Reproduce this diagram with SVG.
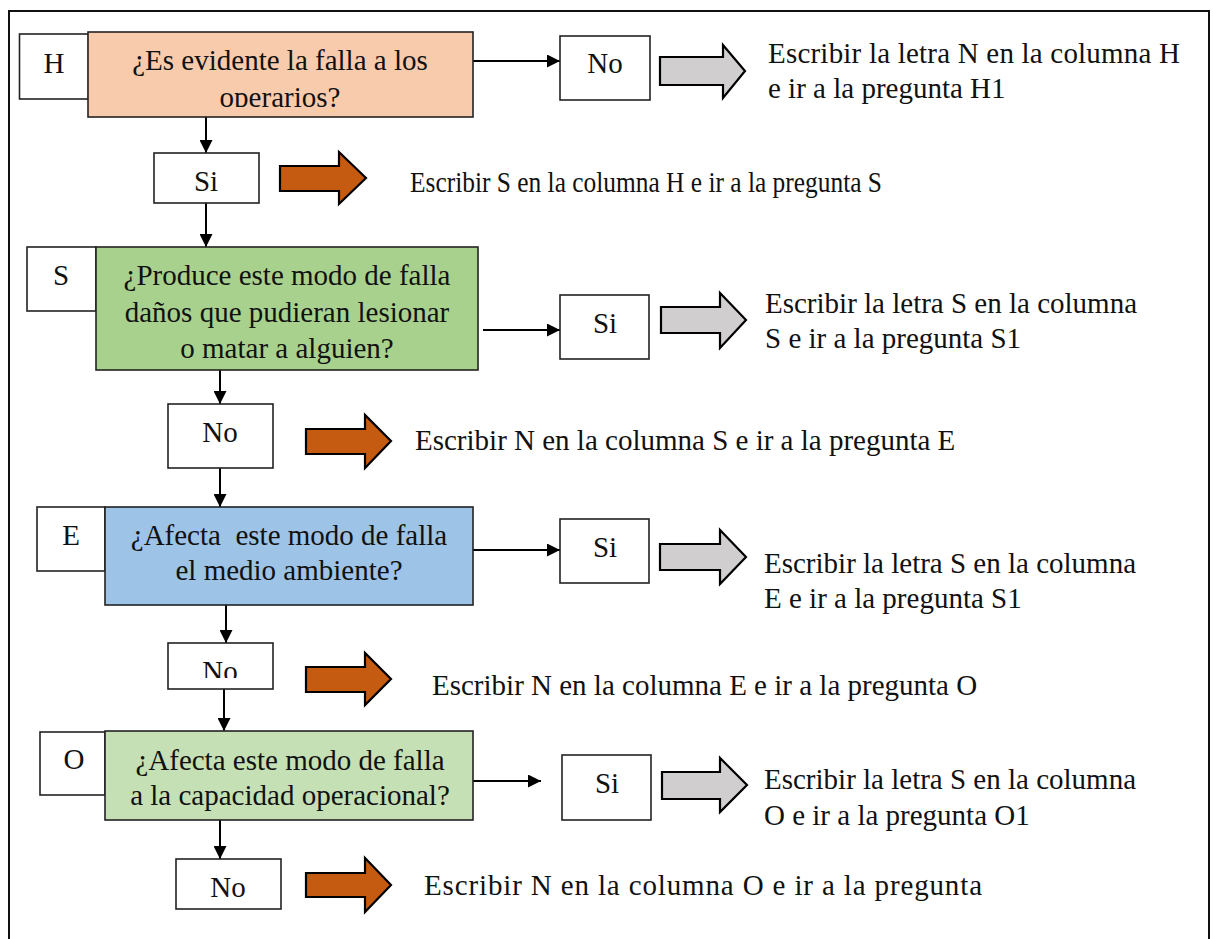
<svg xmlns="http://www.w3.org/2000/svg" width="1213" height="939" viewBox="0 0 1213 939">
  <style>
    text { font-family: "Liberation Serif", "Times New Roman", serif; font-size: 29px; fill: #111; }
    .mid { text-anchor: middle; }
    .box { stroke: #222; stroke-width: 1.6; }
    .white { fill: #ffffff; }
    .conn { stroke: #000; stroke-width: 2; fill: none; }
    .orange { fill: #C55A11; stroke: #000; stroke-width: 2.2; stroke-linejoin: miter; }
    .grey { fill: #D0CECE; stroke: #000; stroke-width: 2.2; stroke-linejoin: miter; }
  </style>
  <defs>
    <marker id="arr" viewBox="0 0 10 10" refX="10" refY="5" markerWidth="7" markerHeight="6.5" markerUnits="strokeWidth" orient="auto">
      <path d="M0,0 L10,5 L0,10 z" fill="#000"/>
    </marker>
    <clipPath id="clipH"><rect x="88" y="32" width="385" height="75"/></clipPath>
    <clipPath id="clipNoE"><rect x="168" y="643" width="105" height="35"/></clipPath>
  </defs>

  <rect width="1213" height="939" fill="#ffffff"/>
  <!-- outer frame -->
  <rect x="9" y="11" width="1200" height="945" fill="none" stroke="#111" stroke-width="2"/>

  <!-- connectors -->
  <g id="connectors">
    <line class="conn" x1="473" y1="61" x2="560" y2="61" marker-end="url(#arr)"/>
    <line class="conn" x1="483" y1="330" x2="560" y2="330" marker-end="url(#arr)"/>
    <line class="conn" x1="473" y1="550" x2="560" y2="550" marker-end="url(#arr)"/>
    <line class="conn" x1="473" y1="781" x2="541" y2="781" marker-end="url(#arr)"/>
    <line class="conn" x1="206" y1="117" x2="206" y2="153" marker-end="url(#arr)"/>
    <line class="conn" x1="206" y1="203" x2="206" y2="247" marker-end="url(#arr)"/>
    <line class="conn" x1="220" y1="370" x2="220" y2="404" marker-end="url(#arr)"/>
    <line class="conn" x1="220" y1="468" x2="220" y2="507" marker-end="url(#arr)"/>
    <line class="conn" x1="226" y1="605" x2="226" y2="643" marker-end="url(#arr)"/>
    <line class="conn" x1="224" y1="689" x2="224" y2="731" marker-end="url(#arr)"/>
    <line class="conn" x1="220" y1="820" x2="220" y2="859" marker-end="url(#arr)"/>
  </g>

  <!-- block arrows -->
  <g id="block-arrows">
    <polygon class="orange" points="280,166 339,166 339,152 366,178 339,204 339,191 280,191"/>
    <polygon class="orange" points="306,429 365,429 365,415 391,441 365,468 365,454 306,454"/>
    <polygon class="orange" points="306,667 365,667 365,653 391,679 365,705 365,692 306,692"/>
    <polygon class="orange" points="306,873 365,873 365,858 391,885 365,912 365,897 306,897"/>
    <polygon class="grey" points="660,57 723,57 723,45 745,71 723,98 723,85 660,85"/>
    <polygon class="grey" points="661,307 720,307 720,293 746,320 720,348 720,333 661,333"/>
    <polygon class="grey" points="660,544 720,544 720,530 746,557 720,584 720,570 660,570"/>
    <polygon class="grey" points="662,772 720,772 720,758 747,785 720,812 720,799 662,799"/>
  </g>

  <!-- H question -->
  <g id="node-h">
    <rect class="box white" x="19.5" y="34" width="69" height="65"/>
    <text class="mid" x="54" y="73">H</text>
  </g>
  <g id="node-q-h">
    <rect class="box" fill="#F8CBAD" x="88" y="32" width="385" height="85"/>
    <g clip-path="url(#clipH)">
      <text class="mid" x="280" y="70">¿Es evidente la falla a los</text>
      <text class="mid" x="280" y="107">operarios?</text>
    </g>
  </g>
  <g id="node-no-h">
    <rect class="box white" x="560" y="36" width="90" height="64"/>
    <text class="mid" x="605" y="73">No</text>
  </g>
  <g id="text-no-h">
    <text x="768" y="63" textLength="412" lengthAdjust="spacing">Escribir la letra N en la columna H</text>
    <text x="768" y="98">e ir a la pregunta H1</text>
  </g>
  <g id="node-si-h">
    <rect class="box white" x="154" y="153" width="105" height="50"/>
    <text class="mid" x="206" y="191">Si</text>
  </g>
  <g id="text-si-h">
    <text x="410" y="192" textLength="472" lengthAdjust="spacingAndGlyphs">Escribir S en la columna H e ir a la pregunta S</text>
  </g>

  <!-- S question -->
  <g id="node-s">
    <rect class="box white" x="27" y="247" width="69" height="64"/>
    <text class="mid" x="61" y="285">S</text>
  </g>
  <g id="node-q-s">
    <rect class="box" fill="#A9D18E" x="96" y="247" width="382" height="123"/>
    <text class="mid" x="287" y="285">¿Produce este modo de falla</text>
    <text class="mid" x="287" y="322">daños que pudieran lesionar</text>
    <text class="mid" x="287" y="358">o matar a alguien?</text>
  </g>
  <g id="node-si-s">
    <rect class="box white" x="560" y="295" width="89" height="64"/>
    <text class="mid" x="605" y="333">Si</text>
  </g>
  <g id="text-si-s">
    <text x="765" y="313">Escribir la letra S en la columna</text>
    <text x="765" y="348">S e ir a la pregunta S1</text>
  </g>
  <g id="node-no-s">
    <rect class="box white" x="168" y="404" width="105" height="64"/>
    <text class="mid" x="220" y="442">No</text>
  </g>
  <g id="text-no-s">
    <text x="415" y="450">Escribir N en la columna S e ir a la pregunta E</text>
  </g>

  <!-- E question -->
  <g id="node-e">
    <rect class="box white" x="37" y="507" width="68" height="64"/>
    <text class="mid" x="71" y="545">E</text>
  </g>
  <g id="node-q-e">
    <rect class="box" fill="#9DC3E6" x="105" y="507" width="368" height="98"/>
    <text class="mid" x="289" y="545" xml:space="preserve">¿Afecta  este modo de falla</text>
    <text class="mid" x="289" y="580">el medio ambiente?</text>
  </g>
  <g id="node-si-e">
    <rect class="box white" x="560" y="519" width="89" height="64"/>
    <text class="mid" x="605" y="557">Si</text>
  </g>
  <g id="text-si-e">
    <text x="764" y="573">Escribir la letra S en la columna</text>
    <text x="764" y="608">E e ir a la pregunta S1</text>
  </g>
  <g id="node-no-e">
    <rect class="box white" x="168" y="643" width="105" height="46"/>
    <g clip-path="url(#clipNoE)">
      <text class="mid" x="220" y="681">No</text>
    </g>
  </g>
  <g id="text-no-e">
    <text x="432" y="695">Escribir N en la columna E e ir a la pregunta O</text>
  </g>

  <!-- O question -->
  <g id="node-o">
    <rect class="box white" x="40" y="732" width="65" height="63"/>
    <text class="mid" x="74" y="769">O</text>
  </g>
  <g id="node-q-o">
    <rect class="box" fill="#C5E0B4" x="105" y="731" width="368" height="89"/>
    <text class="mid" x="290" y="770">¿Afecta este modo de falla</text>
    <text class="mid" x="290" y="805">a la capacidad operacional?</text>
  </g>
  <g id="node-si-o">
    <rect class="box white" x="562" y="755" width="89" height="65"/>
    <text class="mid" x="607" y="793">Si</text>
  </g>
  <g id="text-si-o">
    <text x="764" y="789">Escribir la letra S en la columna</text>
    <text x="764" y="825">O e ir a la pregunta O1</text>
  </g>
  <g id="node-no-o">
    <rect class="box white" x="176" y="859" width="105" height="50"/>
    <text class="mid" x="228" y="897">No</text>
  </g>
  <g id="text-no-o">
    <text x="424" y="895" textLength="558" lengthAdjust="spacing">Escribir N en la columna O e ir a la pregunta</text>
  </g>
</svg>
